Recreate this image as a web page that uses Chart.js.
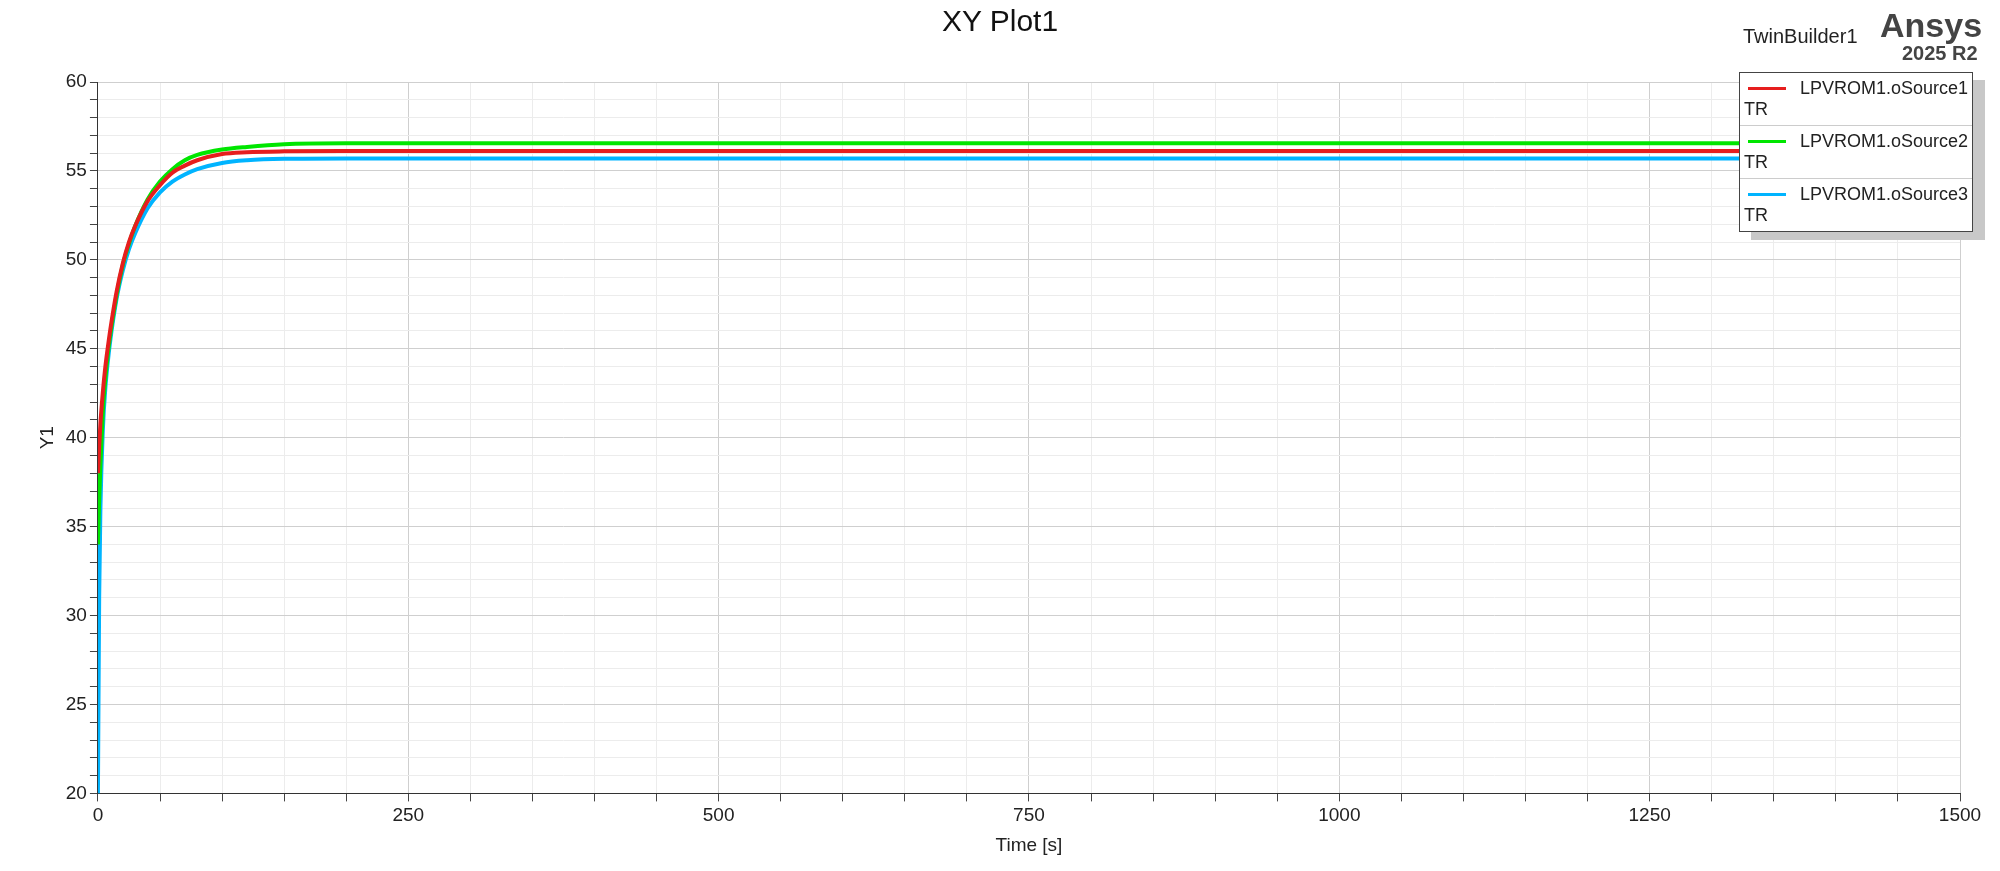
<!DOCTYPE html>
<html><head><meta charset="utf-8">
<script src="https://cdn.jsdelivr.net/npm/chart.js@4"></script>
<style>
body{margin:0;background:#fff;font-family:Arial,"Liberation Sans",sans-serif}
#wrap{position:relative;width:2000px;height:871px}
#title{position:absolute;top:4px;left:0;width:2000px;text-align:center;font-size:30px;color:#111}
#tb{position:absolute;left:1743px;top:25px;font-size:20px;color:#222}
#ansys{position:absolute;left:1880px;top:6px;font-size:34px;font-weight:bold;color:#444}
#rel{position:absolute;left:1902px;top:42px;font-size:20px;font-weight:bold;color:#444}
#legend{position:absolute;left:1739px;top:72px;width:232px;border:1px solid #444;background:#fff;box-shadow:12px 8px 0 #c8c8c8;font-size:18px;color:#222}
.item{padding:5px 4px 5px 4px;border-bottom:1px solid #ccc}
.item:last-child{border-bottom:none}
.row{display:flex;align-items:center}
.sw{width:40px;height:3px;margin:0 14px 0 4px}
</style></head><body>
<div id="wrap">
<canvas id="c" width="2000" height="871"></canvas>
<div id="title">XY Plot1</div>
<div id="tb">TwinBuilder1</div>
<div id="ansys">Ansys</div>
<div id="rel">2025 R2</div>
<div id="legend"></div>
</div>
<script>
const names = ["LPVROM1.oSource1", "LPVROM1.oSource2", "LPVROM1.oSource3"];
const colors = ["rgb(230,30,30)", "rgb(0,230,0)", "rgb(0,180,255)"];
const times = [0, 1, 2, 4, 6, 8, 10, 15, 20, 25, 30, 40, 50, 60, 70, 80, 100, 120, 150, 200, 300, 500, 1000, 1500];
const src1 = [38.0, 39.5, 40.8, 42.6, 44.0, 45.1, 46.1, 48.2, 49.8, 51.0, 51.9, 53.3, 54.2, 54.9, 55.3, 55.6, 55.95, 56.05, 56.1, 56.12, 56.12, 56.12, 56.12, 56.12];
const src2 = [34.0, 36.5, 38.5, 41.5, 43.3, 44.7, 45.8, 48.0, 49.7, 50.9, 51.9, 53.4, 54.4, 55.1, 55.6, 55.9, 56.2, 56.35, 56.5, 56.55, 56.55, 56.55, 56.55, 56.55];
const src3 = [20.0, 31.0, 36.0, 40.5, 42.8, 44.3, 45.5, 47.8, 49.4, 50.6, 51.5, 52.9, 53.8, 54.4, 54.8, 55.1, 55.45, 55.6, 55.68, 55.7, 55.7, 55.7, 55.7, 55.7];
const series = [src1, src2, src3];

const leg = document.getElementById("legend");
names.forEach((n, i) => {
  leg.innerHTML += '<div class="item"><div class="row"><div class="sw" style="background:' + colors[i] + '"></div>' + n + '</div><div>TR</div></div>';
});

new Chart(document.getElementById("c"), {
  type: "line",
  data: {
    datasets: series.map((s, i) => ({
      label: names[i],
      data: times.map((t, k) => ({ x: t, y: s[k] })),
      borderColor: colors[i],
      borderWidth: 4,
      pointRadius: 0,
      cubicInterpolationMode: "monotone"
    }))
  },
  options: {
    responsive: false,
    animation: false,
    layout: { padding: { top: 82, right: 40, left: 32, bottom: 10 } },
    plugins: { legend: { display: false }, tooltip: { enabled: false } },
    scales: {
      x: {
        type: "linear", min: 0, max: 1500,
        title: { display: true, text: "Time [s]", font: { size: 19 }, color: "#222" },
        ticks: { stepSize: 50, autoSkip: false, maxRotation: 0, font: { size: 19 }, color: "#222",
          callback: v => v % 250 === 0 ? v : "" },
        grid: { color: c => c.tick && c.tick.value % 250 === 0 ? "#cfcfcf" : "#ececec",
          tickColor: "#444", tickLength: 8 },
        border: { color: "#333" }
      },
      y: {
        min: 20, max: 60,
        title: { display: true, text: "Y1", font: { size: 19 }, color: "#222" },
        ticks: { stepSize: 1, autoSkip: false, font: { size: 19 }, color: "#222",
          callback: v => v % 5 === 0 ? v : "" },
        grid: { color: c => c.tick && c.tick.value % 5 === 0 ? "#cfcfcf" : "#ececec",
          tickColor: "#444", tickLength: 8 },
        border: { color: "#333" }
      }
    }
  }
});
</script>
</body></html>
